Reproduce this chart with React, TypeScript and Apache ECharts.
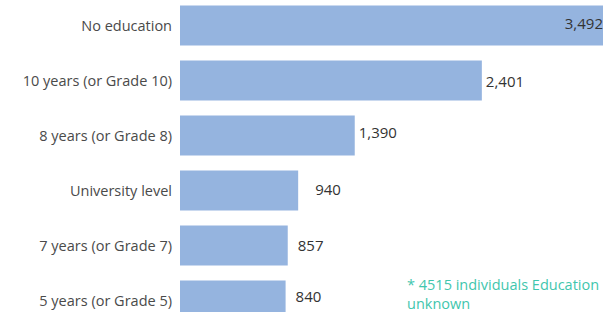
import React, { useEffect, useRef } from "react";
import * as echarts from "echarts";

const categories = [
  "No education",
  "10 years (or Grade 10)",
  "8 years (or Grade 8)",
  "University level",
  "7 years (or Grade 7)",
  "5 years (or Grade 5)",
];
const values = [3492, 2401, 1390, 940, 857, 840];
const noteLines = ["* 4515 individuals Education", "unknown"];

// label nudges [dx, dy] per bar (style only)
const labelNudges: [number, number][] = [
  [0, -3],
  [0, 0],
  [0, -4],
  [13, -2],
  [6, -1],
  [6, -5],
];

const FONT = "'Open Sans', Lato, sans-serif";

export default function App() {
  const ref = useRef<HTMLDivElement>(null);
  useEffect(() => {
    if (!ref.current) return;
    const chart = echarts.init(ref.current, undefined, { renderer: "svg" });
    chart.setOption({
      animation: false,
      textStyle: { fontFamily: FONT },
      grid: { left: 180, right: 0, top: 0, bottom: 0, containLabel: false },
      xAxis: {
        type: "value",
        min: 0,
        max: values[0],
        show: false,
        splitLine: { show: false },
      },
      yAxis: {
        type: "category",
        data: categories,
        inverse: true,
        axisLine: { show: false },
        axisTick: { show: false },
        axisLabel: {
          margin: 8,
          fontSize: 14.5,
          color: "#4a4a4a",
          fontFamily: FONT,
          verticalAlign: "middle",
          lineHeight: 20,
          padding: [5, 0, 0, 0],
        },
      },
      series: [
        {
          type: "bar",
          barWidth: 40,
          itemStyle: { color: "#95b4df" },
          data: values.map((v, i) => ({
            value: v,
            label:
              i === 0
                ? {
                    position: "insideRight",
                    distance: 16,
                    offset: labelNudges[i],
                  }
                : { offset: labelNudges[i] },
          })),
          label: {
            show: true,
            position: "right",
            distance: 4,
            fontSize: 15,
            color: "#333333",
            fontFamily: FONT,
            formatter: (p: any) => Number(p.value).toLocaleString("en-US"),
          },
        },
      ],
      graphic: [
        {
          type: "text",
          left: 407,
          top: 277,
          style: {
            text: noteLines.join("\n"),
            fontSize: 14.5,
            lineHeight: 19,
            fill: "#3fc6ad",
            fontFamily: FONT,
          },
        },
      ],
    });
    return () => chart.dispose();
  }, []);
  return (
    <div
      style={{
        position: "fixed",
        left: 0,
        top: 0,
        width: 603,
        height: 312,
        overflow: "hidden",
        background: "#fff",
      }}
    >
      <div
        ref={ref}
        style={{ position: "absolute", left: 0, top: -2, width: 619, height: 330 }}
      />
    </div>
  );
}
